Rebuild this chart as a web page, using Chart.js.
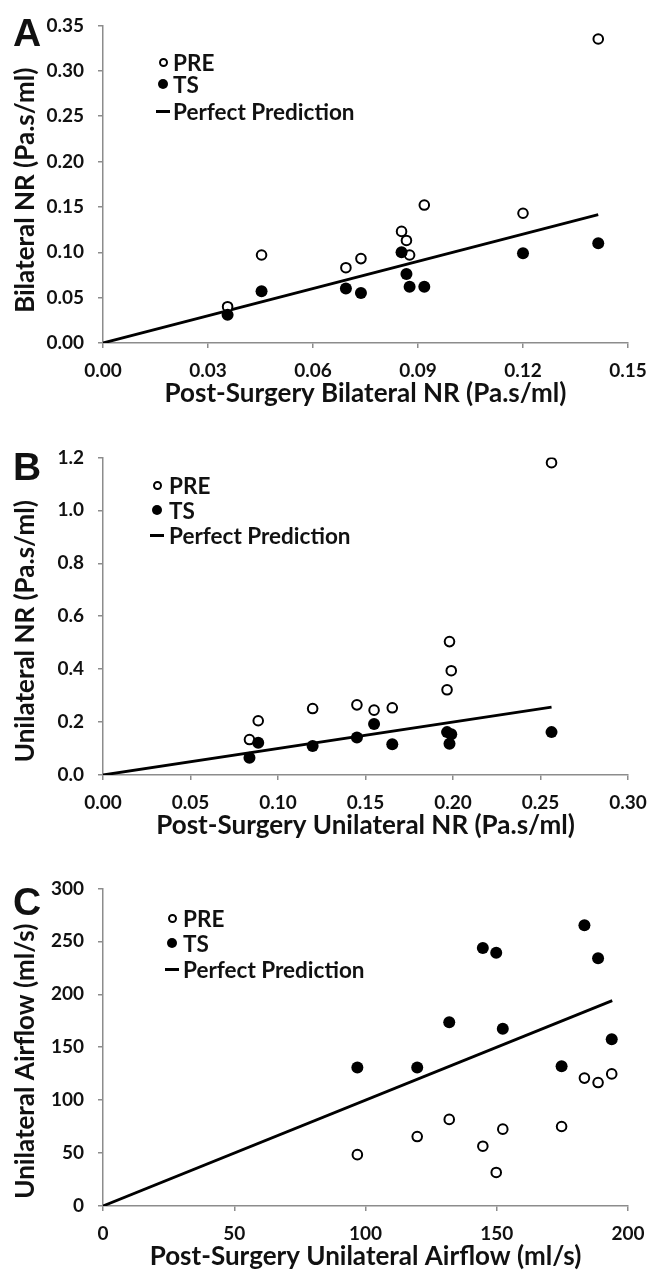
<!DOCTYPE html>
<html>
<head>
<meta charset="utf-8">
<script src="https://cdn.jsdelivr.net/npm/chart.js@4.4.1/dist/chart.umd.min.js"></script>
<style>
  body { margin: 0; background: #fff; width: 663px; height: 1272px; overflow: hidden; font-family: Lato, sans-serif; }
  .painel { position: absolute; left: 0; width: 663px; height: 432px; }
  .painel canvas { position: absolute; left: 0; top: 0; }
  .letra { position: absolute; font-family: "Liberation Sans", Arial, sans-serif; font-weight: bold; font-size: 39px; line-height: 1; color: #111; }
  .item-legenda { position: absolute; height: 26px; display: flex; align-items: center; white-space: nowrap; font-weight: bold; font-size: 22.5px; color: #111; }
  .marca { position: absolute; box-sizing: border-box; }
</style>
</head>
<body>
<script>
// Painel A - NR bilateral
const aPosCirurgia = [0.0356, 0.0453, 0.0694, 0.0737, 0.0853, 0.0867, 0.0876, 0.0918, 0.120, 0.1415];
const aPre = [0.040, 0.097, 0.083, 0.093, 0.123, 0.113, 0.097, 0.152, 0.143, 0.335];
const aTs = [0.031, 0.057, 0.060, 0.055, 0.100, 0.076, 0.062, 0.062, 0.099, 0.110];
const aLinha = [0, 0.1415];
const aTicksX = [0, 0.03, 0.06, 0.09, 0.12, 0.15];
const aTicksY = [0, 0.05, 0.10, 0.15, 0.20, 0.25, 0.30, 0.35];

// Painel B - NR unilateral
const bPosCirurgia = [0.0837, 0.0887, 0.1198, 0.1451, 0.1549, 0.1653, 0.1966, 0.1980, 0.1990, 0.2563];
const bPre = [0.134, 0.205, 0.251, 0.265, 0.245, 0.254, 0.322, 0.504, 0.394, 1.180];
const bTs = [0.065, 0.122, 0.110, 0.142, 0.193, 0.116, 0.162, 0.118, 0.154, 0.162];
const bLinha = [0, 0.2563];
const bTicksX = [0, 0.05, 0.10, 0.15, 0.20, 0.25, 0.30];
const bTicksY = [0, 0.2, 0.4, 0.6, 0.8, 1.0, 1.2];

// Painel C - fluxo unilateral
const cPosCirurgia = [96.9, 119.7, 131.9, 144.7, 149.8, 152.3, 174.7, 183.4, 188.6, 193.8];
const cPre = [48.5, 65.6, 81.8, 56.5, 31.7, 72.6, 75.1, 120.8, 116.6, 124.8];
const cTs = [130.9, 130.9, 173.6, 243.8, 239.2, 167.5, 132.1, 265.2, 234.1, 157.5];
const cLinha = [0, 194];
const cTicksX = [0, 50, 100, 150, 200];
const cTicksY = [0, 50, 100, 150, 200, 250, 300];

const corTexto = '#111';
const corEixo = '#8c8c8c';

Chart.defaults.font.family = 'Lato, sans-serif';

// titulo do eixo Y desenhado a mao, pq no original ele nao fica centralizado
const tituloEixoY = {
    id: 'tituloEixoY',
    afterDraw(chart, args, opts) {
        const { ctx, chartArea } = chart;
        ctx.save();
        ctx.translate(opts.x, (chartArea.top + chartArea.bottom) / 2 + opts.desvio);
        ctx.rotate(-Math.PI / 2);
        ctx.font = 'bold 26px Lato, sans-serif';
        ctx.fillStyle = corTexto;
        ctx.textAlign = 'center';
        ctx.textBaseline = 'middle';
        ctx.fillText(opts.texto, 0, 0);
        ctx.restore();
    }
};

function eixo(ticks, casas, titulo, horizontal) {
    return {
        type: 'linear',
        min: ticks[0],
        max: ticks[ticks.length - 1],
        afterBuildTicks: s => { s.ticks = ticks.map(v => ({ value: v })); },
        afterFit: s => {
            if (horizontal) s.height = 89;
            else s.width = 103;
        },
        ticks: {
            callback: v => Number(v).toFixed(casas),
            font: { size: 19, weight: 'bold' },
            color: corTexto,
            padding: horizontal ? 11 : 14,
            autoSkip: false,
            maxRotation: 0
        },
        grid: { drawOnChartArea: false, drawTicks: true, tickLength: 5, color: corEixo, lineWidth: 1.5 },
        border: { display: true, color: corEixo, width: 1.5 },
        title: {
            display: horizontal,
            text: titulo,
            font: { size: 26, weight: 'bold' },
            color: corTexto,
            padding: { top: 0, bottom: 23 }
        }
    };
}

function criarPainel(p) {
    const div = document.createElement('div');
    div.className = 'painel';
    div.style.top = p.topo + 'px';
    document.body.appendChild(div);

    const canvas = document.createElement('canvas');
    canvas.width = 663;
    canvas.height = 432;
    div.appendChild(canvas);

    const grafico = new Chart(canvas, {
        type: 'scatter',
        data: {
            datasets: [
                {
                    label: 'PRE',
                    data: p.x.map((x, i) => ({ x: x, y: p.pre[i] })),
                    pointRadius: 4.8,
                    pointBorderWidth: 2,
                    pointBackgroundColor: '#fff',
                    pointBorderColor: '#000',
                    order: 2
                },
                {
                    label: 'TS',
                    data: p.x.map((x, i) => ({ x: x, y: p.ts[i] })),
                    pointRadius: 6,
                    pointBorderWidth: 0,
                    pointBackgroundColor: '#000',
                    pointBorderColor: '#000',
                    order: 1
                },
                {
                    label: 'Perfect Prediction',
                    data: p.linha.map(v => ({ x: v, y: v })),
                    showLine: true,
                    borderColor: '#000',
                    borderWidth: 2.8,
                    pointRadius: 0,
                    fill: false,
                    order: 3
                }
            ]
        },
        options: {
            responsive: false,
            animation: false,
            layout: { padding: { top: 16, right: 35, left: 0, bottom: 0 } },
            plugins: {
                legend: { display: false },
                tooltip: { enabled: false },
                tituloEixoY: { texto: p.tituloY, x: 26, desvio: p.desvioTituloY }
            },
            scales: {
                x: eixo(p.ticksX, p.casasX, p.tituloX, true),
                y: eixo(p.ticksY, p.casasY, p.tituloY, false)
            }
        },
        plugins: [tituloEixoY]
    });

    const letra = document.createElement('div');
    letra.className = 'letra';
    letra.textContent = p.letra;
    letra.style.left = '13px';
    letra.style.top = p.topoLetra + 'px';
    div.appendChild(letra);

    // legenda dentro da area do grafico, a partir dos datasets
    grafico.data.datasets.forEach((ds, i) => {
        const item = document.createElement('div');
        item.className = 'item-legenda';
        item.style.top = (p.legY[i] - 13) + 'px';
        item.style.left = p.legTexto + 'px';
        item.textContent = ds.label;
        div.appendChild(item);

        const marca = document.createElement('div');
        marca.className = 'marca';
        if (i === 0) {
            Object.assign(marca.style, { width: '9px', height: '9px', border: '2px solid #000', borderRadius: '50%', background: '#fff', left: (p.legMarca - 4.5) + 'px', top: (p.legY[i] - 4.5) + 'px' });
        } else if (i === 1) {
            Object.assign(marca.style, { width: '10px', height: '10px', borderRadius: '50%', background: '#000', left: (p.legMarca - 5) + 'px', top: (p.legY[i] - 5) + 'px' });
        } else {
            Object.assign(marca.style, { width: '14px', height: '3px', background: '#000', left: (p.legMarca - 7) + 'px', top: (p.legY[i] - 1.5) + 'px' });
        }
        div.appendChild(marca);
    });
}

criarPainel({
    topo: 0, letra: 'A', topoLetra: 13,
    x: aPosCirurgia, pre: aPre, ts: aTs, linha: aLinha,
    ticksX: aTicksX, ticksY: aTicksY, casasX: 2, casasY: 2,
    tituloX: 'Post-Surgery Bilateral NR (Pa.s/ml)', tituloY: 'Bilateral NR (Pa.s/ml)', desvioTituloY: 6,
    legY: [62, 84, 111], legMarca: 163, legTexto: 173
});

criarPainel({
    topo: 432, letra: 'B', topoLetra: 15,
    x: bPosCirurgia, pre: bPre, ts: bTs, linha: bLinha,
    ticksX: bTicksX, ticksY: bTicksY, casasX: 2, casasY: 1,
    tituloX: 'Post-Surgery Unilateral NR (Pa.s/ml)', tituloY: 'Unilateral NR (Pa.s/ml)', desvioTituloY: 15,
    legY: [53, 78, 103], legMarca: 157, legTexto: 169
});

criarPainel({
    topo: 863, letra: 'C', topoLetra: 19,
    x: cPosCirurgia, pre: cPre, ts: cTs, linha: cLinha,
    ticksX: cTicksX, ticksY: cTicksY, casasX: 0, casasY: 0,
    tituloX: 'Post-Surgery Unilateral Airflow (ml/s)', tituloY: 'Unilateral Airflow (ml/s)', desvioTituloY: 14,
    legY: [55, 80, 106], legMarca: 172, legTexto: 183
});
</script>
</body>
</html>
